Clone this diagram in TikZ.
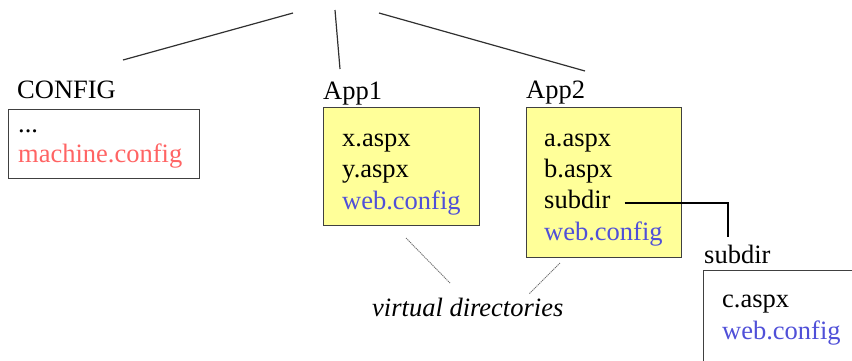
\documentclass[tikz,border=0pt]{standalone}
\usepackage{fontspec}
\setmainfont{Liberation Serif}
\definecolor{boxgray}{HTML}{404040}
\definecolor{vyellow}{HTML}{FFFF99}
\definecolor{redtxt}{HTML}{FF6464}
\definecolor{bluetxt}{HTML}{5050D8}
\definecolor{linegray}{HTML}{303030}
\definecolor{dotgray}{HTML}{707070}
\begin{document}
\begin{tikzpicture}[x=1pt,y=-1pt,
  box/.style={draw=boxgray, line width=1.3pt, inner sep=0pt, anchor=north west},
  vbox/.style={box, fill=vyellow},
  txt/.style={anchor=base west, inner sep=0pt, font=\fontsize{26.5}{30}\selectfont},
  red/.style={txt, text=redtxt},
  blue/.style={txt, text=bluetxt},
  tree/.style={draw=linegray, line width=1.2pt},
  vline/.style={draw=dotgray, line width=0.9pt, dash pattern=on 1.2pt off 0.8pt},
  link/.style={draw=black, line width=1.1pt}]
\useasboundingbox (0,0) rectangle (852,360);
\clip (0,0) rectangle (852,360);
% tree lines
\coordinate (r1) at (293,13); \coordinate (e1) at (123,60);
\coordinate (r2) at (335,10); \coordinate (e2) at (340,69);
\coordinate (r3) at (379,13); \coordinate (e3) at (585,71);
\draw[tree] (r1) -- (e1);
\draw[tree] (r2) -- (e2);
\draw[tree] (r3) -- (e3);
% CONFIG
\node[txt] (cfglab) at (17,98) {CONFIG};
\node[box, minimum width=191pt, minimum height=69pt] (cfgbox) at (8,109) {};
\node[txt] (c1) at (18,132) {...};
\node[red] (c2) at (18,162) {machine.config};
% App1
\node[txt] (app1lab) at (323,99) {App1};
\node[vbox, minimum width=156pt, minimum height=118pt] (app1box) at (323,107) {};
\node[txt] (p1) at (342,146) {x.aspx};
\node[txt] (p2) at (342,177) {y.aspx};
\node[blue] (p3) at (342,209) {web.config};
% App2
\node[txt] (app2lab) at (526,98) {App2};
\node[vbox, minimum width=155pt, minimum height=150pt] (app2box) at (526,107) {};
\node[txt] (a1) at (544,146) {a.aspx};
\node[txt] (a2) at (544,177) {b.aspx};
\node[txt] (a3) at (544,208) {subdir};
\node[blue] (a4) at (544,240) {web.config};
% subdir
\node[txt] (sublab) at (704,263) {subdir};
\node[box, minimum width=200pt, minimum height=120pt] (subbox) at (703,270) {};
\node[txt] (s1) at (722,307) {c.aspx};
\node[blue] (s2) at (722,339) {web.config};
\coordinate (sc) at (728,237);
\draw[link] ([shift={(14,-5)}]a3.base east) -| (sc);
% virtual directories
\node[txt, font=\fontsize{26.5}{30}\selectfont\itshape] (vd) at (372,316) {virtual directories};
\coordinate (v1s) at (406,238); \coordinate (v1e) at (450,283);
\coordinate (v2s) at (560,263); \coordinate (v2e) at (529,294);
\draw[vline] (v1s) -- (v1e);
\draw[vline] (v2s) -- (v2e);
\end{tikzpicture}
\end{document}
